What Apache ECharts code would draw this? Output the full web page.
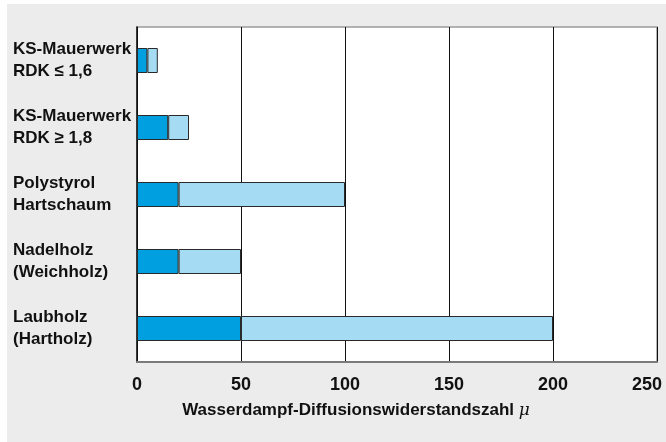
<!DOCTYPE html>
<html>
<head>
<meta charset="utf-8">
<title>Wasserdampf-Diffusionswiderstandszahl</title>
<script src="https://cdn.jsdelivr.net/npm/echarts@6/dist/echarts.min.js"></script>
<style>
  html, body { margin: 0; padding: 0; background: #ffffff; }
  #chart { width: 666px; height: 442px; }
</style>
</head>
<body>
<div id="chart"></div>
<script>
// Baustoffe, von oben nach unten
const categories = [
  'KS-Mauerwerk\nRDK ≤ 1,6',
  'KS-Mauerwerk\nRDK ≥ 1,8',
  'Polystyrol\nHartschaum',
  'Nadelholz\n(Weichholz)',
  'Laubholz\n(Hartholz)'
];
// untere und obere Grenze der Diffusionswiderstandszahl μ
const muMin = [5, 15, 20, 20, 50];
const muMax = [10, 25, 100, 50, 200];
const xTicks = [0, 50, 100, 150, 200, 250];

const font = '"Liberation Sans", Arial, sans-serif';
const chart = echarts.init(document.getElementById('chart'), null, { renderer: 'canvas' });
const xMax = xTicks[xTicks.length - 1];

chart.setOption({
  animation: false,
  backgroundColor: '#ffffff',
  graphic: [{
    type: 'rect',
    z: -10,
    shape: { x: 7, y: 4, width: 659, height: 438 },
    style: { fill: '#ebeceb' }
  }],
  grid: {
    left: 137, top: 27, right: 9, bottom: 80,
    outerBoundsMode: 'none',
    containLabel: false,
    show: true,
    backgroundColor: '#ffffff',
    borderColor: '#9a9a9a',
    borderWidth: 1.5
  },
  xAxis: {
    type: 'value',
    min: xTicks[0],
    max: xMax,
    interval: 50,
    axisLine: { show: true, lineStyle: { color: '#7a7a7a', width: 2 } },
    axisTick: { show: false },
    splitLine: { show: true, lineStyle: { color: '#111111', width: 1 } },
    axisLabel: {
      margin: 14,
      color: '#111111',
      fontFamily: font,
      fontWeight: 'bold',
      fontSize: 18,
      // the last label is pulled inward so it stays on the page
      formatter: v => (v === xMax ? '{last|' + v + '}' : String(v)),
      rich: {
        last: {
          fontFamily: font,
          fontWeight: 'bold',
          fontSize: 18,
          color: '#111111',
          padding: [0, 20, 0, 0]
        }
      }
    },
    name: 'Wasserdampf-Diffusionswiderstandszahl {mu|μ}',
    nameLocation: 'middle',
    nameGap: 40,
    nameTextStyle: {
      color: '#111111',
      fontFamily: font,
      fontWeight: 'bold',
      fontSize: 17,
      padding: [0, 82, 0, 0],
      rich: {
        mu: {
          fontFamily: '"DejaVu Serif", serif',
          fontStyle: 'italic',
          fontWeight: 'normal',
          fontSize: 17,
          color: '#111111'
        }
      }
    }
  },
  yAxis: {
    type: 'category',
    data: categories,
    inverse: true,
    axisLine: { show: true, lineStyle: { color: '#111111', width: 1.5 } },
    axisTick: { show: false },
    axisLabel: {
      align: 'left',
      margin: 124,
      color: '#111111',
      fontFamily: font,
      fontWeight: 'bold',
      fontSize: 17,
      lineHeight: 22
    }
  },
  series: [
    {
      name: 'min',
      type: 'bar',
      stack: 'mu',
      data: muMin,
      barWidth: 25,
      itemStyle: { color: '#009fe0', borderColor: '#2a2a2a', borderWidth: 1 }
    },
    {
      name: 'max',
      type: 'bar',
      stack: 'mu',
      data: muMax.map((v, i) => v - muMin[i]),
      barWidth: 25,
      itemStyle: { color: '#a6dbf4', borderColor: '#2a2a2a', borderWidth: 1 }
    }
  ]
});
</script>
</body>
</html>
